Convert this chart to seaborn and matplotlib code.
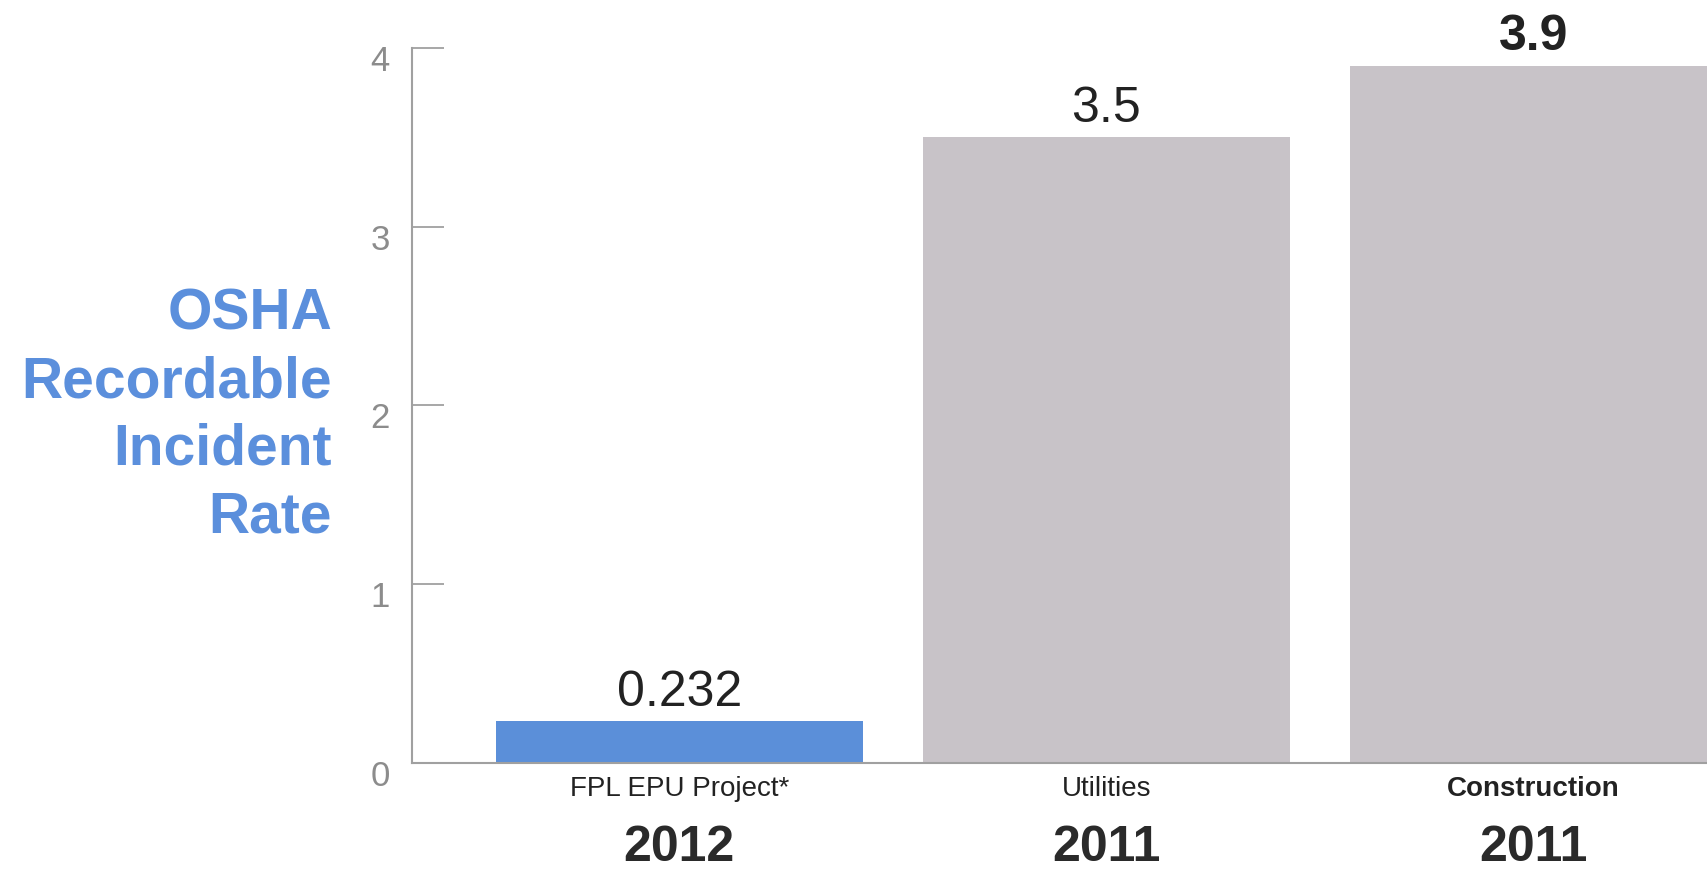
import matplotlib
matplotlib.use("Agg")
import matplotlib.pyplot as plt
import matplotlib.transforms as mtransforms
import seaborn as sns
import pandas as pd

categories = ["FPL EPU Project*", "Utilities", "Construction"]
years = ["2012", "2011", "2011"]
values = [0.232, 3.5, 3.9]
value_labels = ["0.232", "3.5", "3.9"]
value_weights = ["normal", "normal", "bold"]
cat_weights = ["normal", "normal", "bold"]
bar_colors = ["#5b8fd9", "#c8c3c8", "#c8c3c8"]
yticks = [0, 1, 2, 3, 4]
ylabel_text = "OSHA\nRecordable\nIncident\nRate"

sns.set_style("white")
plt.rcParams["font.family"] = ["Liberation Sans", "DejaVu Sans"]

fig = plt.figure(figsize=(17.08, 8.74), dpi=100)
ax = fig.add_axes([412 / 1708, 1 - 762.5 / 874, (1708 - 412) / 1708, (762.5 - 48) / 874])

df = pd.DataFrame({"category": categories, "value": values})
sns.barplot(data=df, x="category", y="value", hue="category", palette=bar_colors,
            width=0.86, legend=False, ax=ax, saturation=1, edgecolor="none")

ax.set_xlim(-0.626, 2.409)
ax.set_ylim(0, 4)
ax.set_yticks(yticks)
ax.set_yticklabels([str(t) for t in yticks])
ax.set_xlabel("")
ax.set_ylabel("")
ax.set_xticks([])

for s in ["top", "right"]:
    ax.spines[s].set_visible(False)
for s in ["left", "bottom"]:
    ax.spines[s].set_color("#a0a0a0")
    ax.spines[s].set_linewidth(1.5)

ax.tick_params(axis="y", direction="in", length=23, width=1.3, color="#a0a0a0",
               labelsize=25, labelcolor="#8c8c8c", pad=16, left=True)
offset = mtransforms.ScaledTranslation(0, -10 / 100, fig.dpi_scale_trans)
for lab in ax.get_yticklabels():
    lab.set_transform(lab.get_transform() + offset)

# value labels above bars
for i, (v, txt, w) in enumerate(zip(values, value_labels, value_weights)):
    ax.annotate(txt, xy=(i, v), xytext=(0, 4), textcoords="offset points",
                ha="center", va="bottom", fontsize=36, color="#222222",
                fontweight=w, annotation_clip=False)

# category and year labels below axis
xt = mtransforms.blended_transform_factory(ax.transData, fig.transFigure)
for i, (c, y, w) in enumerate(zip(categories, years, cat_weights)):
    ax.text(i, 1 - 789 / 874, c, transform=xt, ha="center", va="center",
            fontsize=20, color="#222222", fontweight=w, clip_on=False)
    ax.text(i, 1 - 861 / 874, y, transform=xt, ha="center", va="baseline",
            fontsize=36, color="#2a2a2a", fontweight="bold", clip_on=False)

fig.text(332 / 1708, 1 - 416 / 874, ylabel_text, ha="right", va="center",
         multialignment="right", fontsize=41, fontweight="bold", color="#5b8fdc",
         linespacing=1.32)

fig.savefig("out.png", dpi=100)
